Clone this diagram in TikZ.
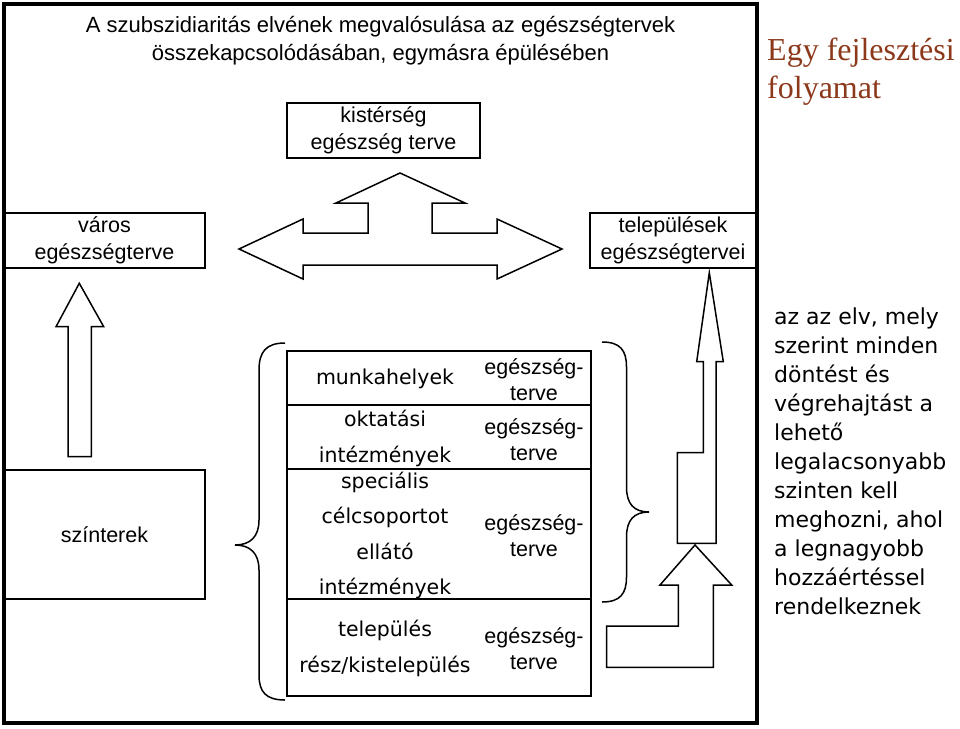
\documentclass[tikz,border=0pt]{standalone}
\usepackage{fontspec}
\setmainfont{Liberation Sans}
\newfontfamily\headserif{Liberation Serif}
\newfontfamily\handfont{DejaVu Sans}
\definecolor{rustbrown}{RGB}{140,56,26}

\begin{document}
\begin{tikzpicture}[x=1pt, y=-1pt,
    sanstext/.style={font=\fontsize{21.5}{27}\selectfont, align=center, inner sep=0pt},
    celltext/.style={font=\handfont\fontsize{20.5}{35.5}\selectfont, align=center, inner sep=0pt},
    plantext/.style={font=\fontsize{21.5}{26}\selectfont, align=center, inner sep=0pt},
    planbox/.style={draw, line width=2pt, inner sep=0pt},
    blockarrow/.style={draw, line width=1.5pt, line join=miter},
    bracket/.style={draw, line width=1.5pt}]
    \useasboundingbox (0,0) rectangle (960,728);

    % Frame
    \draw[line width=4pt] (4,4) rectangle (756.5,723);

    % Headings
    \node[sanstext, font=\fontsize{22}{28}\selectfont] (title) at (380.5,41) {A szubszidiaritás elvének megvalósulása az egészségtervek\\összekapcsolódásában, egymásra épülésében};
    \node[font=\headserif\fontsize{32}{38}\selectfont, text=rustbrown, align=left, anchor=north west, inner sep=0pt] (process) at (767,38)
        {Egy fejlesztési\\folyamat};

    % Plan levels
    \node[planbox, sanstext, minimum width=193pt, minimum height=55pt] (micro) at (383.5,130.5) {kistérség\\egészség terve};
    \node[planbox, sanstext, minimum width=201pt, minimum height=55pt] (city) at (104.5,240.5) {város\\egészségterve};
    \node[planbox, sanstext, minimum width=166pt, minimum height=55pt] (towns) at (673,240.5) {települések\\egészségtervei};
    \node[planbox, sanstext, minimum width=201pt, minimum height=129pt] (settings) at (104.5,534.5) {színterek};

    % Table of settings
    \node[planbox, minimum width=304pt, minimum height=54pt] (rowwork) at (439,378) {};
    \node[planbox, minimum width=304pt, minimum height=64pt] (rowschool) at (439,437) {};
    \node[planbox, minimum width=304pt, minimum height=130pt] (rowspecial) at (439,534) {};
    \node[planbox, minimum width=304pt, minimum height=97pt] (rowlocal) at (439,647.5) {};

    \node[celltext] (work) at (385,379.3) {munkahelyek};
    \node[celltext] (school) at (385,438.5) {oktatási\\intézmények};
    \node[celltext] (special) at (385,535.5) {speciális\\célcsoportot\\ellátó\\intézmények};
    \node[celltext] (local) at (385,648.5) {település\\rész/kistelepülés};

    \node[plantext] (workplan) at (534,379.7) {egészség-\\terve};
    \node[plantext] (schoolplan) at (534,439.3) {egészség-\\terve};
    \node[plantext] (specialplan) at (534,536) {egészség-\\terve};
    \node[plantext] (localplan) at (534,648.3) {egészség-\\terve};

    % Braces
    \draw[bracket] (285,343) .. controls (266,343) and (259,352) .. (259,370) -- (259,520)
        .. controls (259,537) and (250,545) .. (235,545) .. controls (250,545) and (259,553) .. (259,570)
        -- (259,675) .. controls (259,692) and (266,700) .. (285,700);
    \draw[bracket] (602,342) .. controls (620,342) and (626.5,350) .. (626.5,367) -- (626.5,487)
        .. controls (626.5,504) and (634,512) .. (649,512) .. controls (634,512) and (626.5,520) .. (626.5,537)
        -- (626.5,577) .. controls (626.5,594) and (620,602) .. (602,602);

    % Block arrows
    \draw[blockarrow] (68,456.7) -- (68,326.7) -- (56,326.7) -- (79.3,283.3) -- (103.7,326.7)
        -- (91.3,326.7) -- (91.3,456.7) -- cycle;
    \draw[blockarrow] (239,249) -- (303,219) -- (303,233) -- (368,233) -- (368,203) -- (336,203)
        -- (400,173) -- (465,203) -- (432,203) -- (432,233) -- (497,233) -- (497,219) -- (562,249)
        -- (497,279) -- (497,265) -- (303,265) -- (303,279) -- cycle;
    \draw[blockarrow] (677.3,543.3) -- (677.3,452.7) -- (703.3,452.7) -- (703.3,361.7) -- (696.7,361.7)
        -- (709.3,272.7) -- (723.3,361.7) -- (716,361.7) -- (716,543.3) -- cycle;
    \draw[blockarrow] (606.7,626) -- (678.3,626) -- (678.3,585) -- (660,585) -- (695,545) -- (731.7,585)
        -- (713.3,585) -- (713.3,667.3) -- (606.7,667.3) -- cycle;

    % Principle
    \node[font=\handfont\fontsize{22}{29}\selectfont, align=left, anchor=west, inner sep=0pt] (principle) at (774,461)
        {az az elv, mely\\szerint minden\\döntést és\\végrehajtást a\\lehető\\legalacsonyabb\\szinten kell\\meghozni, ahol\\a legnagyobb\\hozzáértéssel\\rendelkeznek};
\end{tikzpicture}
\end{document}
